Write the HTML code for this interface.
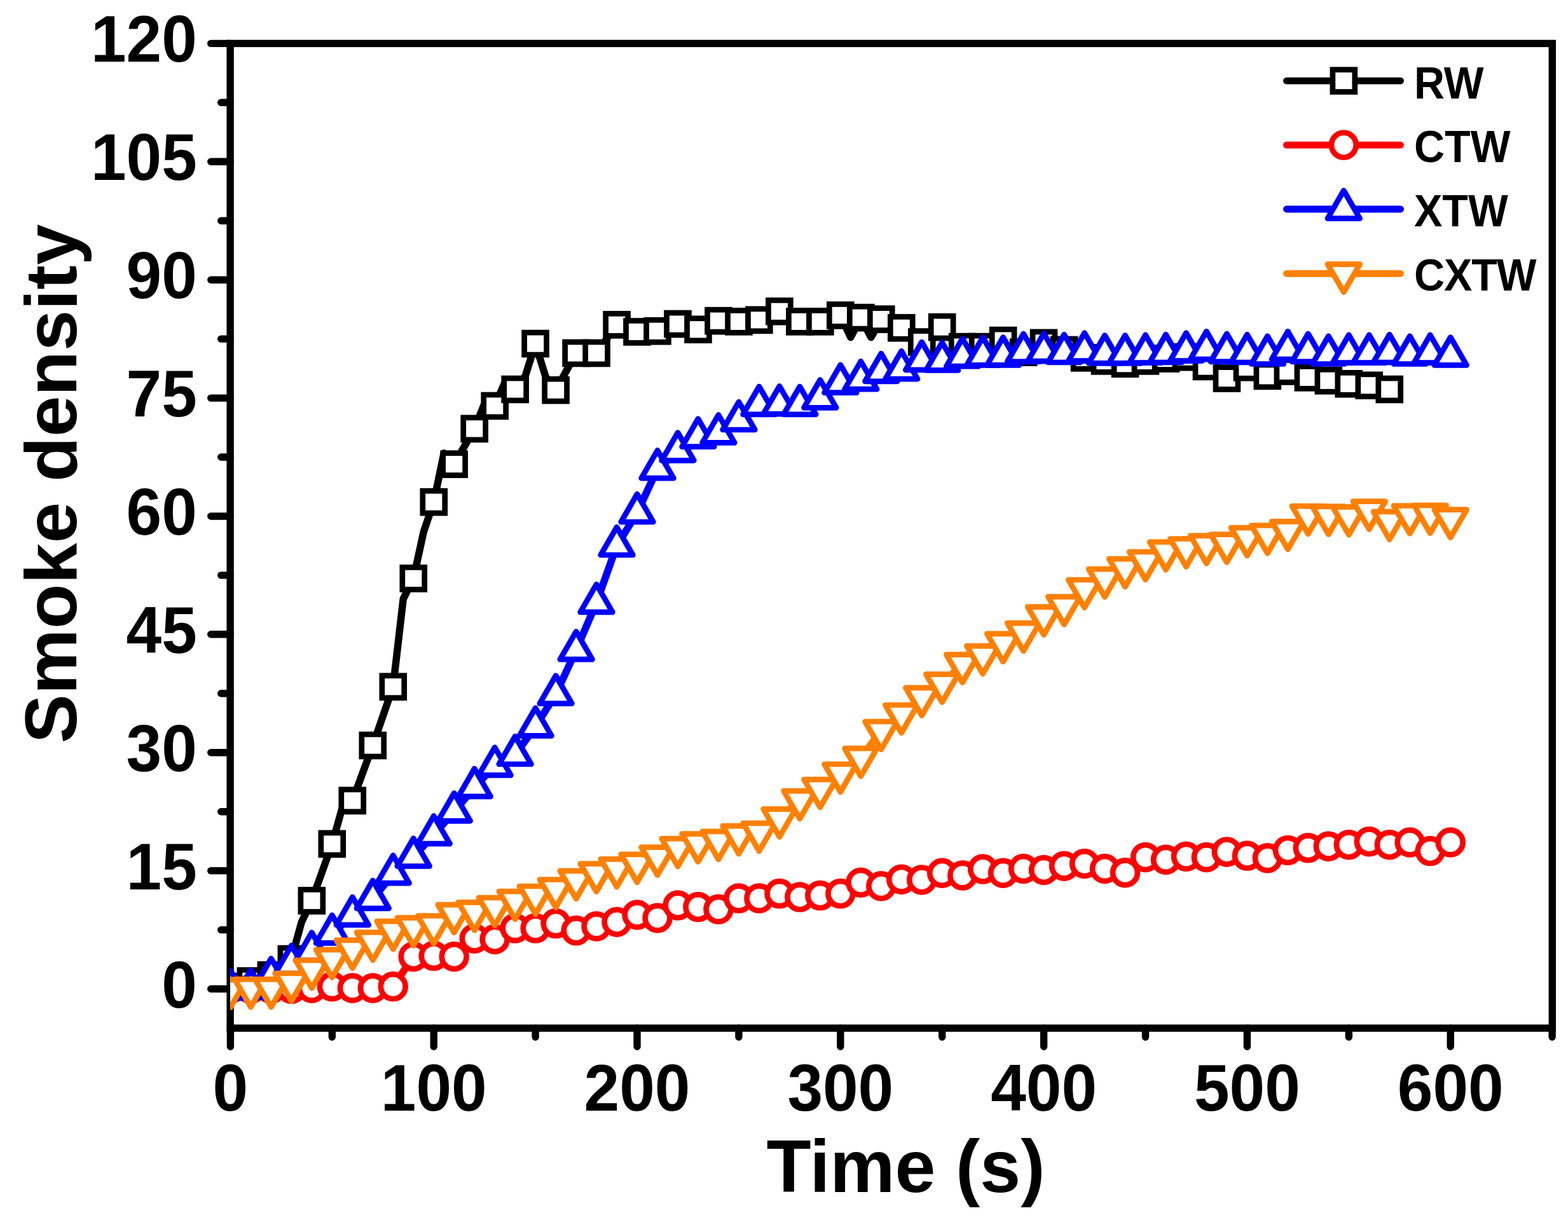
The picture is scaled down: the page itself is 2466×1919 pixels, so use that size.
<!DOCTYPE html><html><head><meta charset="utf-8"><title>Smoke density</title><style>html,body{margin:0;padding:0;background:#fff}svg{display:block}</style></head><body>
<svg width="2466" height="1919" viewBox="0 0 2466 1919">
<rect width="2466" height="1919" fill="#fff"/>
<defs><clipPath id="pc"><rect x="362.1" y="68.4" width="2079.2" height="1548.8"/></clipPath></defs>
<rect x="362.1" y="68.4" width="2079.2" height="1548.8" fill="none" stroke="#000" stroke-width="11.4"/>
<path d="M362.1 1555.5H331.7M362.1 1369.6H331.7M362.1 1183.7H331.7M362.1 997.8H331.7M362.1 812.0H331.7M362.1 626.1H331.7M362.1 440.2H331.7M362.1 254.3H331.7M362.1 68.4H331.7M362.1 1462.6H347.7M362.1 1276.7H347.7M362.1 1090.8H347.7M362.1 904.9H347.7M362.1 719.0H347.7M362.1 533.1H347.7M362.1 347.2H347.7M362.1 161.3H347.7M362.4 1617.2V1646.3M682.2 1617.2V1646.3M1002.0 1617.2V1646.3M1321.8 1617.2V1646.3M1641.6 1617.2V1646.3M1961.4 1617.2V1646.3M2281.2 1617.2V1646.3M522.3 1617.2V1631.3M842.1 1617.2V1631.3M1161.9 1617.2V1631.3M1481.7 1617.2V1631.3M1801.5 1617.2V1631.3M2121.3 1617.2V1631.3M2441.1 1617.2V1631.3" fill="none" stroke="#000" stroke-width="11.4" stroke-linecap="round"/>
<g clip-path="url(#pc)">
<polyline points="362.4,1551.8 378.4,1547.4 394.4,1543.1 410.4,1538.5 426.4,1533.8 442.3,1521.1 458.3,1508.4 474.3,1450.2 490.3,1416.7 506.3,1372.1 522.3,1327.5 538.3,1270.5 554.3,1259.3 570.3,1215.9 586.3,1172.6 602.2,1126.4 618.2,1080.2 634.2,942.1 650.2,909.9 666.2,836.7 682.2,789.6 698.2,712.8 714.2,730.2 730.2,702.3 746.2,674.4 762.1,634.7 778.1,638.5 794.1,601.3 810.1,612.4 826.1,591.4 842.1,540.6 858.1,592.6 874.1,613.7 890.1,584.5 906.1,555.4 922.0,555.4 938.0,555.4 954.0,533.1 970.0,510.8 986.0,516.4 1002.0,522.0 1018.0,521.3 1034.0,520.7 1050.0,515.1 1066.0,509.6 1081.9,513.9 1097.9,518.2 1113.9,511.4 1129.9,504.6 1145.9,505.2 1161.9,505.9 1177.9,504.6 1193.9,503.4 1209.9,496.6 1225.9,489.7 1241.8,497.8 1257.8,505.9 1273.8,505.9 1289.8,505.9 1305.8,500.9 1321.8,495.9 1337.8,530.6 1353.8,499.7 1369.8,530.6 1385.8,502.1 1401.8,509.0 1417.7,515.8 1433.7,526.9 1449.7,538.1 1465.7,526.3 1481.7,514.5 1497.7,530.0 1513.7,545.5 1529.7,545.5 1545.7,545.5 1561.7,540.6 1577.6,535.6 1593.6,544.9 1609.6,554.2 1625.6,546.8 1641.6,539.3 1657.6,544.9 1673.6,550.5 1689.6,556.7 1705.6,562.9 1721.6,565.3 1737.5,567.8 1753.5,570.0 1769.5,572.2 1785.5,570.0 1801.5,567.8 1817.5,566.0 1833.5,564.1 1849.5,562.9 1865.5,561.6 1881.4,569.1 1897.4,576.5 1913.4,585.8 1929.4,595.1 1945.4,586.4 1961.4,577.7 1977.4,584.5 1993.4,591.4 2009.4,587.6 2025.4,583.9 2041.3,588.9 2057.3,593.8 2073.3,596.3 2089.3,598.8 2105.3,601.3 2121.3,603.8 2137.3,605.0 2153.3,606.2 2169.3,609.3 2185.3,612.4" fill="none" stroke="#000000" stroke-width="11.5" stroke-linejoin="round" stroke-linecap="round"/>
<g fill="#fff" stroke="#000000" stroke-width="8.7" stroke-linejoin="miter"><rect x="344.9" y="1534.3" width="34.9" height="34.9"/><rect x="376.9" y="1525.7" width="34.9" height="34.9"/><rect x="408.9" y="1516.4" width="34.9" height="34.9"/><rect x="440.9" y="1491.0" width="34.9" height="34.9"/><rect x="472.9" y="1399.3" width="34.9" height="34.9"/><rect x="504.8" y="1310.0" width="34.9" height="34.9"/><rect x="536.8" y="1241.9" width="34.9" height="34.9"/><rect x="568.8" y="1155.1" width="34.9" height="34.9"/><rect x="600.8" y="1062.8" width="34.9" height="34.9"/><rect x="632.8" y="892.4" width="34.9" height="34.9"/><rect x="664.8" y="772.2" width="34.9" height="34.9"/><rect x="696.7" y="712.7" width="34.9" height="34.9"/><rect x="728.7" y="656.9" width="34.9" height="34.9"/><rect x="760.7" y="621.0" width="34.9" height="34.9"/><rect x="792.7" y="595.0" width="34.9" height="34.9"/><rect x="824.6" y="523.1" width="34.9" height="34.9"/><rect x="856.6" y="596.2" width="34.9" height="34.9"/><rect x="888.6" y="538.0" width="34.9" height="34.9"/><rect x="920.6" y="538.0" width="34.9" height="34.9"/><rect x="952.6" y="493.4" width="34.9" height="34.9"/><rect x="984.5" y="504.5" width="34.9" height="34.9"/><rect x="1016.5" y="503.3" width="34.9" height="34.9"/><rect x="1048.5" y="492.1" width="34.9" height="34.9"/><rect x="1080.5" y="500.8" width="34.9" height="34.9"/><rect x="1112.5" y="487.2" width="34.9" height="34.9"/><rect x="1144.5" y="488.4" width="34.9" height="34.9"/><rect x="1176.4" y="485.9" width="34.9" height="34.9"/><rect x="1208.4" y="472.3" width="34.9" height="34.9"/><rect x="1240.4" y="488.4" width="34.9" height="34.9"/><rect x="1272.4" y="488.4" width="34.9" height="34.9"/><rect x="1304.3" y="478.5" width="34.9" height="34.9"/><rect x="1336.3" y="482.2" width="34.9" height="34.9"/><rect x="1368.3" y="484.7" width="34.9" height="34.9"/><rect x="1400.3" y="498.3" width="34.9" height="34.9"/><rect x="1432.3" y="520.6" width="34.9" height="34.9"/><rect x="1464.2" y="497.1" width="34.9" height="34.9"/><rect x="1496.2" y="528.1" width="34.9" height="34.9"/><rect x="1528.2" y="528.1" width="34.9" height="34.9"/><rect x="1560.2" y="518.1" width="34.9" height="34.9"/><rect x="1592.2" y="536.7" width="34.9" height="34.9"/><rect x="1624.1" y="521.9" width="34.9" height="34.9"/><rect x="1656.1" y="533.0" width="34.9" height="34.9"/><rect x="1688.1" y="545.4" width="34.9" height="34.9"/><rect x="1720.1" y="550.4" width="34.9" height="34.9"/><rect x="1752.1" y="554.7" width="34.9" height="34.9"/><rect x="1784.0" y="550.4" width="34.9" height="34.9"/><rect x="1816.0" y="546.6" width="34.9" height="34.9"/><rect x="1848.0" y="544.2" width="34.9" height="34.9"/><rect x="1880.0" y="559.0" width="34.9" height="34.9"/><rect x="1912.0" y="577.6" width="34.9" height="34.9"/><rect x="1944.0" y="560.3" width="34.9" height="34.9"/><rect x="1975.9" y="573.9" width="34.9" height="34.9"/><rect x="2007.9" y="566.5" width="34.9" height="34.9"/><rect x="2039.9" y="576.4" width="34.9" height="34.9"/><rect x="2071.9" y="581.3" width="34.9" height="34.9"/><rect x="2103.8" y="586.3" width="34.9" height="34.9"/><rect x="2135.8" y="588.8" width="34.9" height="34.9"/><rect x="2167.8" y="595.0" width="34.9" height="34.9"/></g>
<polyline points="362.4,1555.5 378.4,1555.5 394.4,1555.5 410.4,1555.5 426.4,1555.5 442.3,1555.5 458.3,1555.5 474.3,1554.9 490.3,1554.3 506.3,1553.0 522.3,1551.8 538.3,1553.0 554.3,1554.3 570.3,1554.3 586.3,1554.3 602.2,1553.0 618.2,1551.8 634.2,1528.2 650.2,1504.7 666.2,1504.1 682.2,1503.5 698.2,1504.1 714.2,1504.7 730.2,1490.4 746.2,1476.2 762.1,1476.8 778.1,1477.4 794.1,1468.8 810.1,1460.1 826.1,1460.1 842.1,1460.1 858.1,1456.4 874.1,1452.6 890.1,1458.2 906.1,1463.8 922.0,1460.4 938.0,1457.0 954.0,1453.6 970.0,1450.2 986.0,1444.6 1002.0,1439.0 1018.0,1441.5 1034.0,1444.0 1050.0,1434.1 1066.0,1424.1 1081.9,1425.4 1097.9,1426.6 1113.9,1428.5 1129.9,1430.3 1145.9,1421.7 1161.9,1413.0 1177.9,1413.0 1193.9,1413.0 1209.9,1409.3 1225.9,1405.6 1241.8,1408.3 1257.8,1411.1 1273.8,1409.9 1289.8,1408.6 1305.8,1407.1 1321.8,1405.6 1337.8,1396.9 1353.8,1388.2 1369.8,1391.0 1385.8,1393.8 1401.8,1388.5 1417.7,1383.2 1433.7,1383.6 1449.7,1383.9 1465.7,1378.6 1481.7,1373.3 1497.7,1375.2 1513.7,1377.0 1529.7,1372.1 1545.7,1367.1 1561.7,1370.2 1577.6,1373.3 1593.6,1369.9 1609.6,1366.5 1625.6,1367.4 1641.6,1368.4 1657.6,1365.3 1673.6,1362.2 1689.6,1360.3 1705.6,1358.5 1721.6,1362.5 1737.5,1366.5 1753.5,1369.6 1769.5,1372.7 1785.5,1360.6 1801.5,1348.5 1817.5,1350.4 1833.5,1352.3 1849.5,1349.8 1865.5,1347.3 1881.4,1347.9 1897.4,1348.5 1913.4,1344.2 1929.4,1339.9 1945.4,1343.0 1961.4,1346.1 1977.4,1347.9 1993.4,1349.8 2009.4,1343.6 2025.4,1337.4 2041.3,1335.5 2057.3,1333.7 2073.3,1332.4 2089.3,1331.2 2105.3,1330.0 2121.3,1328.7 2137.3,1326.2 2153.3,1323.8 2169.3,1326.2 2185.3,1328.7 2201.2,1326.9 2217.2,1325.0 2233.2,1331.8 2249.2,1338.6 2265.2,1331.8 2281.2,1325.0" fill="none" stroke="#ff0000" stroke-width="11.5" stroke-linejoin="round" stroke-linecap="round"/>
<g fill="#fff" stroke="#ff0000" stroke-width="8.7" stroke-linejoin="round"><circle cx="362.4" cy="1555.5" r="19.4"/><circle cx="394.4" cy="1555.5" r="19.4"/><circle cx="426.4" cy="1555.5" r="19.4"/><circle cx="458.3" cy="1555.5" r="19.4"/><circle cx="490.3" cy="1554.3" r="19.4"/><circle cx="522.3" cy="1551.8" r="19.4"/><circle cx="554.3" cy="1554.3" r="19.4"/><circle cx="586.3" cy="1554.3" r="19.4"/><circle cx="618.2" cy="1551.8" r="19.4"/><circle cx="650.2" cy="1504.7" r="19.4"/><circle cx="682.2" cy="1503.5" r="19.4"/><circle cx="714.2" cy="1504.7" r="19.4"/><circle cx="746.2" cy="1476.2" r="19.4"/><circle cx="778.1" cy="1477.4" r="19.4"/><circle cx="810.1" cy="1460.1" r="19.4"/><circle cx="842.1" cy="1460.1" r="19.4"/><circle cx="874.1" cy="1452.6" r="19.4"/><circle cx="906.1" cy="1463.8" r="19.4"/><circle cx="938.0" cy="1457.0" r="19.4"/><circle cx="970.0" cy="1450.2" r="19.4"/><circle cx="1002.0" cy="1439.0" r="19.4"/><circle cx="1034.0" cy="1444.0" r="19.4"/><circle cx="1066.0" cy="1424.1" r="19.4"/><circle cx="1097.9" cy="1426.6" r="19.4"/><circle cx="1129.9" cy="1430.3" r="19.4"/><circle cx="1161.9" cy="1413.0" r="19.4"/><circle cx="1193.9" cy="1413.0" r="19.4"/><circle cx="1225.9" cy="1405.6" r="19.4"/><circle cx="1257.8" cy="1411.1" r="19.4"/><circle cx="1289.8" cy="1408.6" r="19.4"/><circle cx="1321.8" cy="1405.6" r="19.4"/><circle cx="1353.8" cy="1388.2" r="19.4"/><circle cx="1385.8" cy="1393.8" r="19.4"/><circle cx="1417.7" cy="1383.2" r="19.4"/><circle cx="1449.7" cy="1383.9" r="19.4"/><circle cx="1481.7" cy="1373.3" r="19.4"/><circle cx="1513.7" cy="1377.0" r="19.4"/><circle cx="1545.7" cy="1367.1" r="19.4"/><circle cx="1577.6" cy="1373.3" r="19.4"/><circle cx="1609.6" cy="1366.5" r="19.4"/><circle cx="1641.6" cy="1368.4" r="19.4"/><circle cx="1673.6" cy="1362.2" r="19.4"/><circle cx="1705.6" cy="1358.5" r="19.4"/><circle cx="1737.5" cy="1366.5" r="19.4"/><circle cx="1769.5" cy="1372.7" r="19.4"/><circle cx="1801.5" cy="1348.5" r="19.4"/><circle cx="1833.5" cy="1352.3" r="19.4"/><circle cx="1865.5" cy="1347.3" r="19.4"/><circle cx="1897.4" cy="1348.5" r="19.4"/><circle cx="1929.4" cy="1339.9" r="19.4"/><circle cx="1961.4" cy="1346.1" r="19.4"/><circle cx="1993.4" cy="1349.8" r="19.4"/><circle cx="2025.4" cy="1337.4" r="19.4"/><circle cx="2057.3" cy="1333.7" r="19.4"/><circle cx="2089.3" cy="1331.2" r="19.4"/><circle cx="2121.3" cy="1328.7" r="19.4"/><circle cx="2153.3" cy="1323.8" r="19.4"/><circle cx="2185.3" cy="1328.7" r="19.4"/><circle cx="2217.2" cy="1325.0" r="19.4"/><circle cx="2249.2" cy="1338.6" r="19.4"/><circle cx="2281.2" cy="1325.0" r="19.4"/></g>
<polyline points="362.4,1555.5 378.4,1555.2 394.4,1554.9 410.4,1545.9 426.4,1536.9 442.3,1526.7 458.3,1516.5 474.3,1506.2 490.3,1496.0 506.3,1482.4 522.3,1468.8 538.3,1454.5 554.3,1440.2 570.3,1427.2 586.3,1414.2 602.2,1394.4 618.2,1374.6 634.2,1361.2 650.2,1347.9 666.2,1330.3 682.2,1312.6 698.2,1294.6 714.2,1276.7 730.2,1257.5 746.2,1238.3 762.1,1221.5 778.1,1204.8 794.1,1196.1 810.1,1187.4 826.1,1165.1 842.1,1142.8 858.1,1117.4 874.1,1092.0 890.1,1057.3 906.1,1022.6 922.0,985.4 938.0,948.3 954.0,903.3 970.0,858.4 986.0,832.4 1002.0,806.4 1018.0,772.0 1034.0,737.6 1050.0,723.7 1066.0,709.7 1081.9,698.9 1097.9,688.0 1113.9,684.9 1129.9,681.8 1145.9,671.6 1161.9,661.4 1177.9,649.3 1193.9,637.2 1209.9,636.9 1225.9,636.6 1241.8,636.9 1257.8,637.2 1273.8,631.9 1289.8,626.7 1305.8,614.9 1321.8,603.1 1337.8,600.3 1353.8,597.6 1369.8,591.4 1385.8,585.2 1401.8,583.3 1417.7,581.4 1433.7,574.3 1449.7,567.2 1465.7,567.5 1481.7,567.8 1497.7,564.7 1513.7,561.6 1529.7,560.7 1545.7,559.8 1561.7,559.8 1577.6,559.8 1593.6,557.0 1609.6,554.2 1625.6,553.9 1641.6,553.6 1657.6,554.5 1673.6,555.4 1689.6,554.2 1705.6,552.9 1721.6,554.8 1737.5,556.7 1753.5,556.7 1769.5,556.7 1785.5,556.4 1801.5,556.0 1817.5,555.7 1833.5,555.4 1849.5,554.2 1865.5,552.9 1881.4,551.7 1897.4,550.5 1913.4,552.3 1929.4,554.2 1945.4,554.8 1961.4,555.4 1977.4,556.7 1993.4,557.9 2009.4,554.2 2025.4,550.5 2041.3,552.3 2057.3,554.2 2073.3,556.0 2089.3,557.9 2105.3,557.0 2121.3,556.0 2137.3,556.0 2153.3,556.0 2169.3,555.7 2185.3,555.4 2201.2,556.7 2217.2,557.9 2233.2,557.0 2249.2,556.0 2265.2,557.9 2281.2,559.8" fill="none" stroke="#0000ff" stroke-width="11.5" stroke-linejoin="round" stroke-linecap="round"/>
<g fill="#fff" stroke="#0000ff" stroke-width="8.7" stroke-linejoin="round"><path d="M362.4 1526.3L387.7 1570.1L337.1 1570.1Z"/><path d="M394.4 1525.7L419.7 1569.5L369.1 1569.5Z"/><path d="M426.4 1507.7L451.7 1551.5L401.1 1551.5Z"/><path d="M458.3 1487.2L483.6 1531.1L433.0 1531.1Z"/><path d="M490.3 1466.8L515.6 1510.6L465.0 1510.6Z"/><path d="M522.3 1439.5L547.6 1483.4L497.0 1483.4Z"/><path d="M554.3 1411.0L579.6 1454.9L529.0 1454.9Z"/><path d="M586.3 1385.0L611.6 1428.8L561.0 1428.8Z"/><path d="M618.2 1345.4L643.5 1389.2L592.9 1389.2Z"/><path d="M650.2 1318.7L675.5 1362.5L624.9 1362.5Z"/><path d="M682.2 1283.4L707.5 1327.2L656.9 1327.2Z"/><path d="M714.2 1247.5L739.5 1291.3L688.9 1291.3Z"/><path d="M746.2 1209.0L771.5 1252.9L720.9 1252.9Z"/><path d="M778.1 1175.6L803.4 1219.4L752.8 1219.4Z"/><path d="M810.1 1158.2L835.4 1202.0L784.8 1202.0Z"/><path d="M842.1 1113.6L867.4 1157.4L816.8 1157.4Z"/><path d="M874.1 1062.8L899.4 1106.6L848.8 1106.6Z"/><path d="M906.1 993.4L931.4 1037.2L880.8 1037.2Z"/><path d="M938.0 919.1L963.3 962.9L912.7 962.9Z"/><path d="M970.0 829.2L995.3 873.0L944.7 873.0Z"/><path d="M1002.0 777.2L1027.3 821.0L976.7 821.0Z"/><path d="M1034.0 708.4L1059.3 752.2L1008.7 752.2Z"/><path d="M1066.0 680.5L1091.3 724.3L1040.7 724.3Z"/><path d="M1097.9 658.8L1123.2 702.6L1072.6 702.6Z"/><path d="M1129.9 652.6L1155.2 696.4L1104.6 696.4Z"/><path d="M1161.9 632.2L1187.2 676.0L1136.6 676.0Z"/><path d="M1193.9 608.0L1219.2 651.8L1168.6 651.8Z"/><path d="M1225.9 607.4L1251.2 651.2L1200.6 651.2Z"/><path d="M1257.8 608.0L1283.1 651.8L1232.5 651.8Z"/><path d="M1289.8 597.5L1315.1 641.3L1264.5 641.3Z"/><path d="M1321.8 573.9L1347.1 617.7L1296.5 617.7Z"/><path d="M1353.8 568.3L1379.1 612.2L1328.5 612.2Z"/><path d="M1385.8 556.0L1411.1 599.8L1360.5 599.8Z"/><path d="M1417.7 552.2L1443.0 596.1L1392.4 596.1Z"/><path d="M1449.7 538.0L1475.0 581.8L1424.4 581.8Z"/><path d="M1481.7 538.6L1507.0 582.4L1456.4 582.4Z"/><path d="M1513.7 532.4L1539.0 576.2L1488.4 576.2Z"/><path d="M1545.7 530.5L1571.0 574.4L1520.4 574.4Z"/><path d="M1577.6 530.5L1602.9 574.4L1552.3 574.4Z"/><path d="M1609.6 525.0L1634.9 568.8L1584.3 568.8Z"/><path d="M1641.6 524.4L1666.9 568.2L1616.3 568.2Z"/><path d="M1673.6 526.2L1698.9 570.0L1648.3 570.0Z"/><path d="M1705.6 523.7L1730.9 567.6L1680.3 567.6Z"/><path d="M1737.5 527.5L1762.8 571.3L1712.2 571.3Z"/><path d="M1769.5 527.5L1794.8 571.3L1744.2 571.3Z"/><path d="M1801.5 526.8L1826.8 570.7L1776.2 570.7Z"/><path d="M1833.5 526.2L1858.8 570.0L1808.2 570.0Z"/><path d="M1865.5 523.7L1890.8 567.6L1840.2 567.6Z"/><path d="M1897.4 521.3L1922.7 565.1L1872.1 565.1Z"/><path d="M1929.4 525.0L1954.7 568.8L1904.1 568.8Z"/><path d="M1961.4 526.2L1986.7 570.0L1936.1 570.0Z"/><path d="M1993.4 528.7L2018.7 572.5L1968.1 572.5Z"/><path d="M2025.4 521.3L2050.7 565.1L2000.1 565.1Z"/><path d="M2057.3 525.0L2082.6 568.8L2032.0 568.8Z"/><path d="M2089.3 528.7L2114.6 572.5L2064.0 572.5Z"/><path d="M2121.3 526.8L2146.6 570.7L2096.0 570.7Z"/><path d="M2153.3 526.8L2178.6 570.7L2128.0 570.7Z"/><path d="M2185.3 526.2L2210.6 570.0L2160.0 570.0Z"/><path d="M2217.2 528.7L2242.5 572.5L2191.9 572.5Z"/><path d="M2249.2 526.8L2274.5 570.7L2223.9 570.7Z"/><path d="M2281.2 530.5L2306.5 574.4L2255.9 574.4Z"/></g>
<polyline points="362.4,1555.5 378.4,1555.2 394.4,1554.9 410.4,1554.9 426.4,1554.9 442.3,1550.2 458.3,1545.6 474.3,1535.4 490.3,1525.1 506.3,1516.8 522.3,1508.4 538.3,1501.0 554.3,1493.5 570.3,1487.3 586.3,1481.1 602.2,1472.5 618.2,1463.8 634.2,1461.0 650.2,1458.2 666.2,1456.7 682.2,1455.1 698.2,1446.4 714.2,1437.8 730.2,1435.9 746.2,1434.1 762.1,1430.3 778.1,1426.6 794.1,1421.7 810.1,1416.7 826.1,1412.7 842.1,1408.6 858.1,1403.4 874.1,1398.1 890.1,1391.3 906.1,1384.5 922.0,1378.9 938.0,1373.3 954.0,1369.6 970.0,1365.9 986.0,1362.2 1002.0,1358.5 1018.0,1352.9 1034.0,1347.3 1050.0,1340.5 1066.0,1333.7 1081.9,1330.0 1097.9,1326.2 1113.9,1324.4 1129.9,1322.5 1145.9,1318.2 1161.9,1313.8 1177.9,1311.7 1193.9,1309.5 1209.9,1298.4 1225.9,1287.2 1241.8,1273.0 1257.8,1258.7 1273.8,1249.7 1289.8,1240.7 1305.8,1228.6 1321.8,1216.6 1337.8,1204.2 1353.8,1191.8 1369.8,1170.7 1385.8,1149.6 1401.8,1136.6 1417.7,1123.6 1433.7,1110.0 1449.7,1096.4 1465.7,1085.8 1481.7,1075.3 1497.7,1059.8 1513.7,1044.3 1529.7,1037.5 1545.7,1030.7 1561.7,1021.1 1577.6,1011.5 1593.6,1003.1 1609.6,994.7 1625.6,982.0 1641.6,969.3 1657.6,961.3 1673.6,953.2 1689.6,939.9 1705.6,926.6 1721.6,918.2 1737.5,909.9 1753.5,901.8 1769.5,893.7 1785.5,888.2 1801.5,882.6 1817.5,874.8 1833.5,867.1 1849.5,864.6 1865.5,862.1 1881.4,859.7 1897.4,857.2 1913.4,856.3 1929.4,855.3 1945.4,850.1 1961.4,844.8 1977.4,842.9 1993.4,841.1 2009.4,838.0 2025.4,834.9 2041.3,822.8 2057.3,810.7 2073.3,811.0 2089.3,811.3 2105.3,811.6 2121.3,812.0 2137.3,807.6 2153.3,803.3 2169.3,811.3 2185.3,819.4 2201.2,814.7 2217.2,810.1 2233.2,809.8 2249.2,809.5 2265.2,812.9 2281.2,816.3" fill="none" stroke="#ff8000" stroke-width="11.5" stroke-linejoin="round" stroke-linecap="round"/>
<g fill="#fff" stroke="#ff8000" stroke-width="8.7" stroke-linejoin="round"><path d="M362.4 1584.7L387.7 1540.9L337.1 1540.9Z"/><path d="M394.4 1584.1L419.7 1540.3L369.1 1540.3Z"/><path d="M426.4 1584.1L451.7 1540.3L401.1 1540.3Z"/><path d="M458.3 1574.8L483.6 1531.0L433.0 1531.0Z"/><path d="M490.3 1554.4L515.6 1510.5L465.0 1510.5Z"/><path d="M522.3 1537.6L547.6 1493.8L497.0 1493.8Z"/><path d="M554.3 1522.8L579.6 1478.9L529.0 1478.9Z"/><path d="M586.3 1510.4L611.6 1466.5L561.0 1466.5Z"/><path d="M618.2 1493.0L643.5 1449.2L592.9 1449.2Z"/><path d="M650.2 1487.4L675.5 1443.6L624.9 1443.6Z"/><path d="M682.2 1484.3L707.5 1440.5L656.9 1440.5Z"/><path d="M714.2 1467.0L739.5 1423.2L688.9 1423.2Z"/><path d="M746.2 1463.3L771.5 1419.4L720.9 1419.4Z"/><path d="M778.1 1455.8L803.4 1412.0L752.8 1412.0Z"/><path d="M810.1 1445.9L835.4 1402.1L784.8 1402.1Z"/><path d="M842.1 1437.9L867.4 1394.0L816.8 1394.0Z"/><path d="M874.1 1427.3L899.4 1383.5L848.8 1383.5Z"/><path d="M906.1 1413.7L931.4 1369.9L880.8 1369.9Z"/><path d="M938.0 1402.5L963.3 1358.7L912.7 1358.7Z"/><path d="M970.0 1395.1L995.3 1351.3L944.7 1351.3Z"/><path d="M1002.0 1387.7L1027.3 1343.9L976.7 1343.9Z"/><path d="M1034.0 1376.5L1059.3 1332.7L1008.7 1332.7Z"/><path d="M1066.0 1362.9L1091.3 1319.1L1040.7 1319.1Z"/><path d="M1097.9 1355.5L1123.2 1311.6L1072.6 1311.6Z"/><path d="M1129.9 1351.7L1155.2 1307.9L1104.6 1307.9Z"/><path d="M1161.9 1343.1L1187.2 1299.2L1136.6 1299.2Z"/><path d="M1193.9 1338.7L1219.2 1294.9L1168.6 1294.9Z"/><path d="M1225.9 1316.4L1251.2 1272.6L1200.6 1272.6Z"/><path d="M1257.8 1287.9L1283.1 1244.1L1232.5 1244.1Z"/><path d="M1289.8 1269.9L1315.1 1226.1L1264.5 1226.1Z"/><path d="M1321.8 1245.8L1347.1 1202.0L1296.5 1202.0Z"/><path d="M1353.8 1221.0L1379.1 1177.2L1328.5 1177.2Z"/><path d="M1385.8 1178.9L1411.1 1135.0L1360.5 1135.0Z"/><path d="M1417.7 1152.8L1443.0 1109.0L1392.4 1109.0Z"/><path d="M1449.7 1125.6L1475.0 1081.8L1424.4 1081.8Z"/><path d="M1481.7 1104.5L1507.0 1060.7L1456.4 1060.7Z"/><path d="M1513.7 1073.5L1539.0 1029.7L1488.4 1029.7Z"/><path d="M1545.7 1059.9L1571.0 1016.1L1520.4 1016.1Z"/><path d="M1577.6 1040.7L1602.9 996.9L1552.3 996.9Z"/><path d="M1609.6 1024.0L1634.9 980.1L1584.3 980.1Z"/><path d="M1641.6 998.5L1666.9 954.7L1616.3 954.7Z"/><path d="M1673.6 982.4L1698.9 938.6L1648.3 938.6Z"/><path d="M1705.6 955.8L1730.9 912.0L1680.3 912.0Z"/><path d="M1737.5 939.1L1762.8 895.2L1712.2 895.2Z"/><path d="M1769.5 923.0L1794.8 879.1L1744.2 879.1Z"/><path d="M1801.5 911.8L1826.8 868.0L1776.2 868.0Z"/><path d="M1833.5 896.3L1858.8 852.5L1808.2 852.5Z"/><path d="M1865.5 891.4L1890.8 847.5L1840.2 847.5Z"/><path d="M1897.4 886.4L1922.7 842.6L1872.1 842.6Z"/><path d="M1929.4 884.5L1954.7 840.7L1904.1 840.7Z"/><path d="M1961.4 874.0L1986.7 830.2L1936.1 830.2Z"/><path d="M1993.4 870.3L2018.7 826.5L1968.1 826.5Z"/><path d="M2025.4 864.1L2050.7 820.3L2000.1 820.3Z"/><path d="M2057.3 839.9L2082.6 796.1L2032.0 796.1Z"/><path d="M2089.3 840.5L2114.6 796.7L2064.0 796.7Z"/><path d="M2121.3 841.2L2146.6 797.3L2096.0 797.3Z"/><path d="M2153.3 832.5L2178.6 788.7L2128.0 788.7Z"/><path d="M2185.3 848.6L2210.6 804.8L2160.0 804.8Z"/><path d="M2217.2 839.3L2242.5 795.5L2191.9 795.5Z"/><path d="M2249.2 838.7L2274.5 794.9L2223.9 794.9Z"/><path d="M2281.2 845.5L2306.5 801.7L2255.9 801.7Z"/></g>
</g>
<text font-family="Liberation Sans, Arial, sans-serif" font-weight="bold" font-size="100.0" text-anchor="end" transform="translate(309.8,1584.5) scale(1,1.035)">0</text>
<text font-family="Liberation Sans, Arial, sans-serif" font-weight="bold" font-size="100.0" text-anchor="end" transform="translate(309.8,1398.6) scale(1,1.035)">15</text>
<text font-family="Liberation Sans, Arial, sans-serif" font-weight="bold" font-size="100.0" text-anchor="end" transform="translate(309.8,1212.7) scale(1,1.035)">30</text>
<text font-family="Liberation Sans, Arial, sans-serif" font-weight="bold" font-size="100.0" text-anchor="end" transform="translate(309.8,1026.8) scale(1,1.035)">45</text>
<text font-family="Liberation Sans, Arial, sans-serif" font-weight="bold" font-size="100.0" text-anchor="end" transform="translate(309.8,841.0) scale(1,1.035)">60</text>
<text font-family="Liberation Sans, Arial, sans-serif" font-weight="bold" font-size="100.0" text-anchor="end" transform="translate(309.8,655.1) scale(1,1.035)">75</text>
<text font-family="Liberation Sans, Arial, sans-serif" font-weight="bold" font-size="100.0" text-anchor="end" transform="translate(309.8,469.2) scale(1,1.035)">90</text>
<text font-family="Liberation Sans, Arial, sans-serif" font-weight="bold" font-size="100.0" text-anchor="end" transform="translate(309.8,283.3) scale(1,1.035)">105</text>
<text font-family="Liberation Sans, Arial, sans-serif" font-weight="bold" font-size="100.0" text-anchor="end" transform="translate(309.8,97.4) scale(1,1.035)">120</text>
<text font-family="Liberation Sans, Arial, sans-serif" font-weight="bold" font-size="100.0" text-anchor="middle" transform="translate(362.4,1747) scale(1,1.035)">0</text>
<text font-family="Liberation Sans, Arial, sans-serif" font-weight="bold" font-size="100.0" text-anchor="middle" transform="translate(682.2,1747) scale(1,1.035)">100</text>
<text font-family="Liberation Sans, Arial, sans-serif" font-weight="bold" font-size="100.0" text-anchor="middle" transform="translate(1002.0,1747) scale(1,1.035)">200</text>
<text font-family="Liberation Sans, Arial, sans-serif" font-weight="bold" font-size="100.0" text-anchor="middle" transform="translate(1321.8,1747) scale(1,1.035)">300</text>
<text font-family="Liberation Sans, Arial, sans-serif" font-weight="bold" font-size="100.0" text-anchor="middle" transform="translate(1641.6,1747) scale(1,1.035)">400</text>
<text font-family="Liberation Sans, Arial, sans-serif" font-weight="bold" font-size="100.0" text-anchor="middle" transform="translate(1961.4,1747) scale(1,1.035)">500</text>
<text font-family="Liberation Sans, Arial, sans-serif" font-weight="bold" font-size="100.0" text-anchor="middle" transform="translate(2281.2,1747) scale(1,1.035)">600</text>
<text font-family="Liberation Sans, Arial, sans-serif" font-weight="bold" font-size="114.8" transform="translate(1205.4,1874.7) scale(1,1.01)">Time (s)</text>
<text font-family="Liberation Sans, Arial, sans-serif" font-weight="bold" font-size="115.7" transform="translate(120,1169.3) rotate(-90) scale(1,1.0)">Smoke density</text>
<path d="M2023.4 127.1H2202.6" stroke="#000000" stroke-width="10.8" stroke-linecap="round"/>
<g fill="#fff" stroke="#000000" stroke-width="8.7" stroke-linejoin="miter"><rect x="2095.9" y="109.6" width="34.9" height="34.9"/></g>
<text font-family="Liberation Sans, Arial, sans-serif" font-weight="bold" font-size="66.5" transform="translate(2224,154.6) scale(1,1.065)">RW</text>
<path d="M2023.4 228.1H2202.6" stroke="#ff0000" stroke-width="10.8" stroke-linecap="round"/>
<g fill="#fff" stroke="#ff0000" stroke-width="8.7" stroke-linejoin="round"><circle cx="2113.3" cy="228.1" r="19.4"/></g>
<text font-family="Liberation Sans, Arial, sans-serif" font-weight="bold" font-size="66.5" transform="translate(2224,254.6) scale(1,1.065)">CTW</text>
<path d="M2023.4 329.0H2202.6" stroke="#0000ff" stroke-width="10.8" stroke-linecap="round"/>
<g fill="#fff" stroke="#0000ff" stroke-width="8.7" stroke-linejoin="round"><path d="M2113.3 299.8L2138.6 343.6L2088.0 343.6Z"/></g>
<text font-family="Liberation Sans, Arial, sans-serif" font-weight="bold" font-size="66.5" transform="translate(2224,356.2) scale(1,1.065)">XTW</text>
<path d="M2023.4 430.3H2202.6" stroke="#ff8000" stroke-width="10.8" stroke-linecap="round"/>
<g fill="#fff" stroke="#ff8000" stroke-width="8.7" stroke-linejoin="round"><path d="M2113.3 459.5L2138.6 415.7L2088.0 415.7Z"/></g>
<text font-family="Liberation Sans, Arial, sans-serif" font-weight="bold" font-size="66.5" letter-spacing="-1.1" transform="translate(2224,456.8) scale(1,1.065)">CXTW</text>
</svg></body></html>
